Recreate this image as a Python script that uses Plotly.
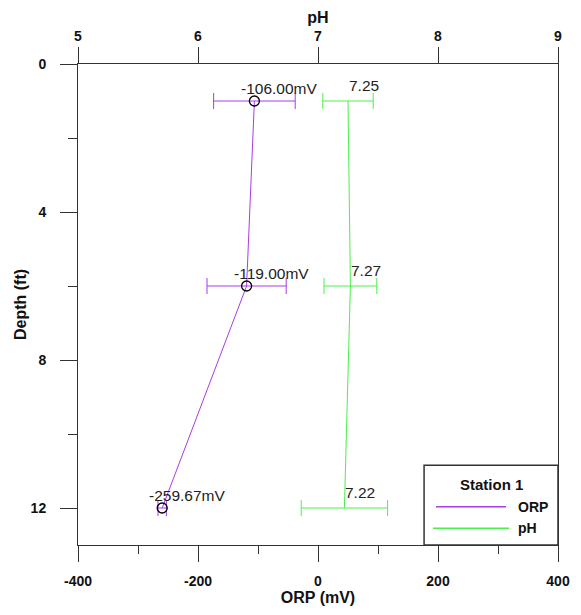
import plotly.graph_objects as go

# ---- data ----
depth = [1, 6, 12]
orp = [-106.00, -119.00, -259.67]
orp_err = [68, 66, 7]
ph = [7.25, 7.27, 7.22]
ph_err = [0.21, 0.22, 0.36]
orp_labels = ["-106.00mV", "-119.00mV", "-259.67mV"]
ph_labels = ["7.25", "7.27", "7.22"]
orp_ticks = [-400, -200, 0, 200, 400]
orp_ticktext = ["-400", "-200", "0", "200", "400"]
ph_ticks = [5, 6, 7, 8, 9]
depth_ticks = [0, 4, 8, 12]

ORP_COLOR = "#a83ce8"
PH_COLOR = "#4cf04c"
AX = "#333333"
FONT = "Liberation Sans, Arial, sans-serif"

fig = go.Figure()

fig.add_trace(go.Scatter(
    x=orp, y=depth, xaxis="x", yaxis="y", name="ORP",
    mode="lines+markers",
    line=dict(color=ORP_COLOR, width=1),
    marker=dict(symbol="circle-open", size=10, color="black", line=dict(width=1.3, color="black")),
    error_x=dict(type="data", array=orp_err, color=ORP_COLOR, thickness=1, width=8),
    showlegend=False,
))
fig.add_trace(go.Scatter(
    x=ph, y=depth, xaxis="x2", yaxis="y", name="pH",
    mode="lines",
    line=dict(color=PH_COLOR, width=1),
    error_x=dict(type="data", array=ph_err, color=PH_COLOR, thickness=1, width=8),
    showlegend=False,
))

annotations = []
for xv, yv, t in zip(orp, depth, orp_labels):
    annotations.append(dict(x=xv, y=yv, xref="x", yref="y", text=t, showarrow=False,
                            xanchor="left", yanchor="middle", xshift=-15, yshift=13,
                            font=dict(size=15.5, color="#222", family=FONT)))
for xv, yv, t in zip(ph, depth, ph_labels):
    annotations.append(dict(x=xv, y=yv, xref="x2", yref="y", text=t, showarrow=False,
                            xanchor="left", yanchor="middle", xshift=-1, yshift=16,
                            font=dict(size=15.5, color="#222", family=FONT)))

# manual legend (paper coordinates)
annotations += [
    dict(x=0.862, y=0.125, xref="paper", yref="paper", text="<b>Station 1</b>", showarrow=False,
         xanchor="center", yanchor="middle", font=dict(size=15, color="#111", family=FONT)),
    dict(x=0.912, y=0.0797, xref="paper", yref="paper", text="<b>ORP</b>", showarrow=False,
         xanchor="left", yanchor="middle", font=dict(size=14, color="#111", family=FONT)),
    dict(x=0.912, y=0.0347, xref="paper", yref="paper", text="<b>pH</b>", showarrow=False,
         xanchor="left", yanchor="middle", font=dict(size=14, color="#111", family=FONT)),
]
shapes = [
    dict(type="rect", xref="paper", yref="paper", x0=0.721, x1=1.0, y0=0.0, y1=0.166,
         line=dict(color=AX, width=1.5), fillcolor="white", layer="above"),
    dict(type="line", xref="paper", yref="paper", x0=(436 - 78) / 480, x1=(506 - 78) / 480,
         y0=0.0797, y1=0.0797, line=dict(color=ORP_COLOR, width=1.5)),
    dict(type="line", xref="paper", yref="paper", x0=(433 - 78) / 480, x1=(509 - 78) / 480,
         y0=0.0347, y1=0.0347, line=dict(color=PH_COLOR, width=1.5)),
]

tickfont = dict(size=14, color="#111", family=FONT, weight="bold")
titlefont = dict(size=16, color="#111", family=FONT, weight="bold")

fig.update_layout(
    width=581, height=615,
    margin=dict(l=78, r=23, t=64, b=70),
    paper_bgcolor="white", plot_bgcolor="white",
    font=dict(family=FONT),
    annotations=annotations,
    shapes=shapes,
    xaxis=dict(
        range=[-400, 400], tickvals=orp_ticks, ticktext=orp_ticktext,
        ticks="outside", ticklen=16, tickcolor=AX,
        tickwidth=1, showline=True, linecolor=AX, linewidth=1, showgrid=False, zeroline=False,
        minor=dict(dtick=100, tick0=0, ticks="outside", ticklen=8, tickcolor=AX, showgrid=False),
        tickfont=tickfont, ticklabelstandoff=7, automargin=False,
        title=dict(text="ORP (mV)", font=titlefont, standoff=2),
    ),
    xaxis2=dict(
        range=[5, 9], tickvals=ph_ticks, overlaying="x", side="top", anchor="y",
        ticks="outside", ticklen=16, tickcolor=AX, tickwidth=1,
        showline=True, linecolor=AX, linewidth=1, showgrid=False, zeroline=False,
        tickfont=tickfont, ticklabelstandoff=0, automargin=False,
        title=dict(text="pH", font=titlefont, standoff=0),
    ),
    yaxis=dict(
        range=[13, 0], tickvals=depth_ticks, ticks="outside", ticklen=17, tickcolor=AX,
        tickwidth=1, showline=True, mirror=True, linecolor=AX, linewidth=1,
        showgrid=False, zeroline=False,
        minor=dict(dtick=2, tick0=0, ticks="outside", ticklen=9, tickcolor=AX, showgrid=False),
        tickfont=tickfont, ticklabelstandoff=11, automargin=False,
        title=dict(text="Depth (ft)", font=titlefont, standoff=0),
    ),
)

fig.write_html("out.html", config={"displayModeBar": False},
               post_script="document.body.style.margin='0';document.body.style.overflow='hidden';")
